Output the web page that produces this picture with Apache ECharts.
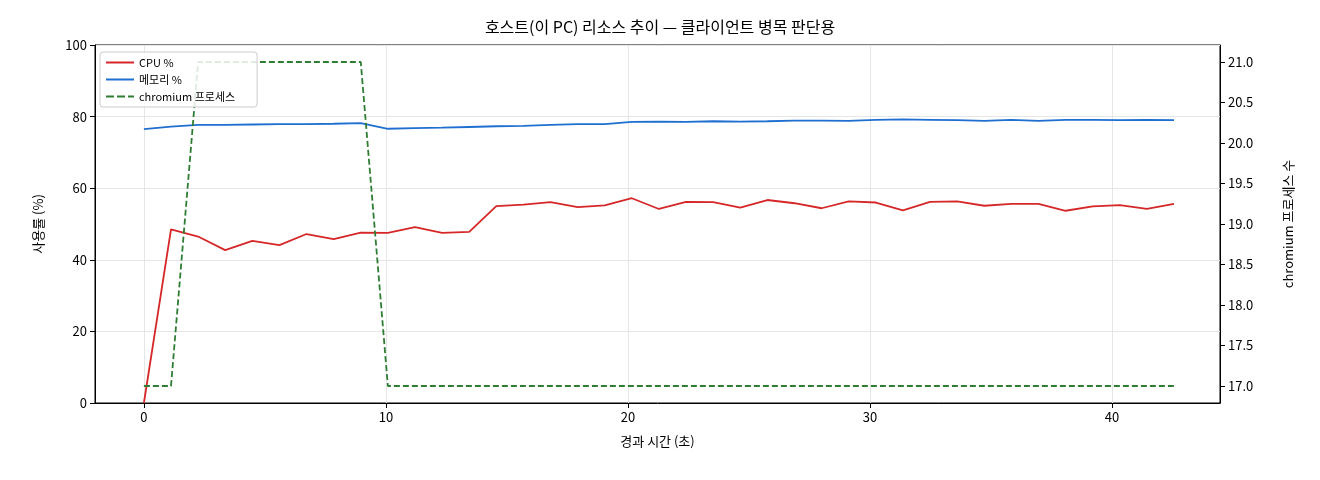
<!DOCTYPE html><html><head><meta charset="utf-8"><script src="https://cdn.jsdelivr.net/npm/echarts@6/dist/echarts.min.js"></script></head><body style="margin:0"><div id="c" style="width:1320px;height:480px"></div><script>
const times=[0,1.12,2.24,3.36,4.48,5.6,6.72,7.84,8.96,10.08,11.2,12.32,13.44,14.56,15.68,16.8,17.92,19.04,20.16,21.28,22.4,23.52,24.64,25.76,26.88,28.0,29.12,30.24,31.36,32.48,33.6,34.72,35.84,36.96,38.08,39.2,40.32,41.44,42.56];
const cpu=[0,48.5,46.5,42.7,45.3,44.1,47.2,45.8,47.6,47.5,49.1,47.5,47.8,55,55.4,56.1,54.7,55.2,57.2,54.2,56.2,56.1,54.6,56.7,55.8,54.4,56.3,56.0,53.8,56.2,56.3,55.1,55.6,55.6,53.7,54.9,55.3,54.2,55.6];
const mem=[76.5,77.2,77.7,77.7,77.8,77.9,77.9,78.0,78.2,76.6,76.8,76.9,77.1,77.3,77.4,77.7,77.9,77.9,78.5,78.6,78.5,78.7,78.6,78.7,78.9,78.9,78.8,79.1,79.2,79.1,79.0,78.8,79.1,78.8,79.1,79.1,79.0,79.1,79.0];
const chrom=[17,17,21,21,21,21,21,21,21,17,17,17,17,17,17,17,17,17,17,17,17,17,17,17,17,17,17,17,17,17,17,17,17,17,17,17,17,17,17];
const xTicks=[0,10,20,30,40];
const rTicks=[17.0,17.5,18.0,18.5,19.0,19.5,20.0,20.5,21.0];
const F='"Noto Sans CJK KR", sans-serif';
const z=a=>a.map((v,i)=>[times[i],v]);
const ch=echarts.init(document.getElementById('c'));
ch.setOption({animation:false,
title:{text:'호스트(이 PC) 리소스 추이 — 클라이언트 병목 판단용',left:'center',top:14,textStyle:{fontFamily:F,fontSize:16,fontWeight:'normal',color:'#000'}},
grid:{left:95,right:100,top:45,bottom:77,show:true,borderColor:'#000',borderWidth:1,backgroundColor:'transparent'},
legend:{left:100,top:52,orient:'vertical',itemGap:6,itemWidth:28,itemHeight:2,backgroundColor:'rgba(255,255,255,0.85)',borderColor:'#ccc',borderWidth:1,borderRadius:3,padding:[5,22,5,6],textStyle:{fontFamily:F,fontSize:11,color:'#000'},
 data:[{name:'CPU %',icon:'rect'},{name:'메모리 %',icon:'rect'},{name:'chromium 프로세스',icon:'path://M0,0h8v2h-8z M11,0h8v2h-8z M22,0h6v2h-6z'}]},
xAxis:{type:'value',min:-2.02,max:44.46,name:'경과 시간 (초)',nameLocation:'middle',nameGap:32,nameTextStyle:{fontFamily:F,fontSize:13,color:'#000'},
 axisLine:{show:true,onZero:false,lineStyle:{color:'#000'}},axisTick:{show:true,customValues:xTicks,lineStyle:{color:'#000'}},axisLabel:{customValues:xTicks,fontFamily:F,fontSize:13,color:'#000'},splitLine:{show:true,lineStyle:{color:'#e6e6e6'}}},
yAxis:[{type:'value',min:0,max:100,interval:20,name:'사용률 (%)',nameLocation:'middle',nameGap:50,nameTextStyle:{fontFamily:F,fontSize:13,color:'#000'},
 axisLine:{show:true,onZero:false,lineStyle:{color:'#000'}},axisTick:{show:true,lineStyle:{color:'#000'}},axisLabel:{fontFamily:F,fontSize:13,color:'#000'},splitLine:{lineStyle:{color:'#e6e6e6'}}},
 {type:'value',min:16.79,max:21.21,position:'right',name:'chromium 프로세스 수',nameLocation:'middle',nameGap:62,nameRotate:90,nameTextStyle:{fontFamily:F,fontSize:13,color:'#000'},
 axisLine:{show:true,onZero:false,lineStyle:{color:'#000'}},axisTick:{show:true,customValues:rTicks,lineStyle:{color:'#000'}},axisLabel:{customValues:rTicks,formatter:v=>v.toFixed(1),fontFamily:F,fontSize:13,color:'#000'},splitLine:{show:false}}],
series:[
{name:'CPU %',type:'line',data:z(cpu),showSymbol:false,lineStyle:{color:'#d62728',width:1.8},itemStyle:{color:'#d62728'}},
{name:'메모리 %',type:'line',data:z(mem),showSymbol:false,lineStyle:{color:'#1f6fd0',width:1.8},itemStyle:{color:'#1f6fd0'}},
{name:'chromium 프로세스',type:'line',yAxisIndex:1,data:z(chrom),showSymbol:false,lineStyle:{color:'#2e7d32',width:1.8,type:[6,3]},itemStyle:{color:'#2e7d32'}}]});
</script></body></html>
